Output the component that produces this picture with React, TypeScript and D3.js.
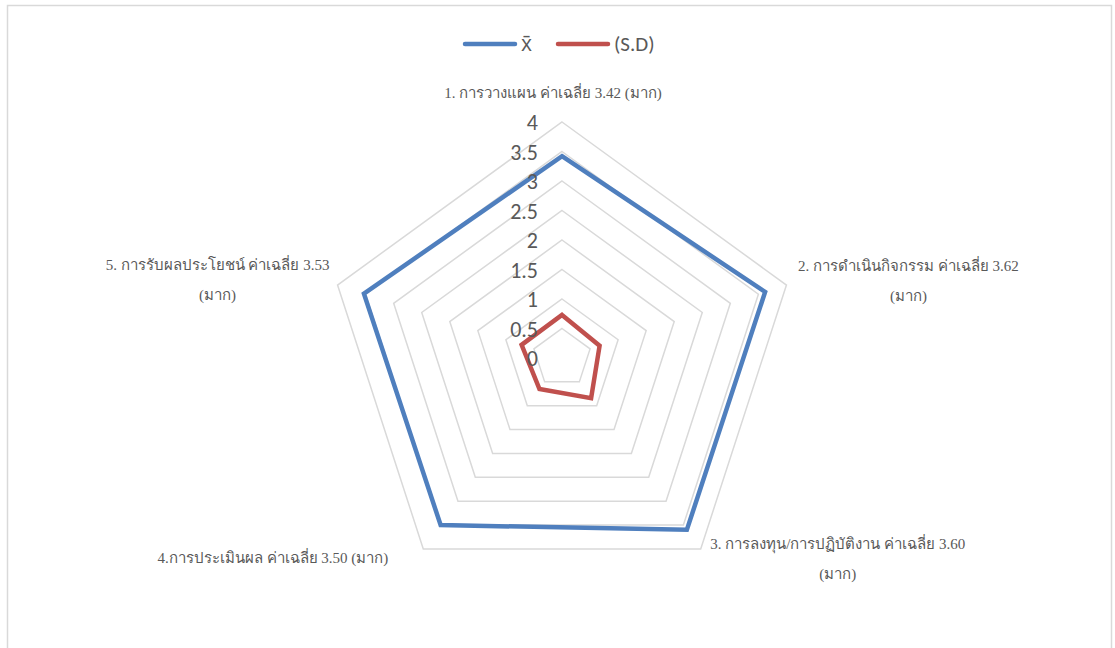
import * as d3 from 'd3';

const categories = [
  ['1. การวางแผน ค่าเฉลี่ย 3.42 (มาก)'],
  ['2. การดำเนินกิจกรรม  ค่าเฉลี่ย 3.62', '(มาก)'],
  ['3. การลงทุน/การปฏิบัติงาน ค่าเฉลี่ย 3.60', '(มาก)'],
  ['4.การประเมินผล ค่าเฉลี่ย 3.50 (มาก)'],
  ['5. การรับผลประโยชน์ ค่าเฉลี่ย 3.53', '(มาก)'],
];
const meanValues = [3.42, 3.62, 3.6, 3.5, 3.53];
const sdValues = [0.73, 0.67, 0.84, 0.65, 0.72];
const ticks = [0, 0.5, 1, 1.5, 2, 2.5, 3, 3.5, 4];
const seriesNames = ['x̄', '(S.D)'];

const W = 1115;
const H = 648;
const cx = 562;
const cy = 358;
const R = 236;
const BLUE = '#4f7fbe';
const RED = '#c0504d';
const GRID = '#d9d9d9';
const TEXT = '#595959';
const THAI_FONT = '"Liberation Serif", "Times New Roman", serif';
const NUM_FONT = 'Carlito, "Open Sans", "Liberation Sans", sans-serif';

// label anchor tweaks relative to outer vertex: dx, dy, text-anchor
const labelPlacement: [number, number, string][] = [
  [-9, -24, 'middle'],
  [122, -14, 'middle'],
  [137, 0, 'middle'],
  [-35, 14, 'end'],
  [-120, -15, 'middle'],
];

const App = () => {
  const r = d3.scaleLinear().domain([0, 4]).range([0, R]);
  const angle = (i: number) => (i * 2 * Math.PI) / categories.length;

  const radar = d3
    .lineRadial<number>()
    .angle((_, i) => angle(i))
    .radius((d) => r(d))
    .curve(d3.curveLinearClosed);

  const vertex = (i: number, v: number) => {
    const a = angle(i);
    return [cx + r(v) * Math.sin(a), cy - r(v) * Math.cos(a)];
  };

  const rings = ticks.filter((t) => t > 0);

  return (
    <svg
      width={W}
      height={H}
      style={{ position: 'absolute', left: 0, top: 0, background: '#fff' }}
    >
      <rect x={7.5} y={5.5} width={W - 11} height={H + 10} fill="none" stroke={GRID} strokeWidth={1.5} />

      {/* legend */}
      <g fontFamily={NUM_FONT} fontSize={21} fill={TEXT}>
        <line x1={465} x2={515} y1={44} y2={44} stroke={BLUE} strokeWidth={4.5} strokeLinecap="round" />
        <text x={521} y={51}>{seriesNames[0]}</text>
        <line x1={558} x2={608} y1={44} y2={44} stroke={RED} strokeWidth={4.5} strokeLinecap="round" />
        <text x={614} y={51}>{seriesNames[1]}</text>
      </g>

      <g transform={`translate(${cx},${cy})`}>
        {rings.map((t) => (
          <path
            key={t}
            d={radar(categories.map(() => t)) || ''}
            fill="none"
            stroke={GRID}
            strokeWidth={1.5}
          />
        ))}
        <path d={radar(meanValues) || ''} fill="none" stroke={BLUE} strokeWidth={4.5} strokeLinejoin="miter" />
        <path d={radar(sdValues) || ''} fill="none" stroke={RED} strokeWidth={4.5} strokeLinejoin="miter" />
      </g>

      {/* radial tick labels */}
      <g fontFamily={NUM_FONT} fontSize={22} fill={TEXT} textAnchor="end">
        {ticks.map((t) => (
          <text key={t} x={cx - 24} y={cy - r(t) + 8}>
            {t}
          </text>
        ))}
      </g>

      {/* category labels */}
      <g fontFamily={THAI_FONT} fontSize={15} fill={TEXT}>
        {categories.map((lines, i) => {
          const [vx, vy] = vertex(i, 4);
          const [dx, dy, anchor] = labelPlacement[i];
          return (
            <text key={i} x={vx + dx} y={vy + dy} textAnchor={anchor}>
              {lines.map((l, j) => (
                <tspan key={j} x={vx + dx} dy={j === 0 ? 0 : 30}>
                  {l}
                </tspan>
              ))}
            </text>
          );
        })}
      </g>
    </svg>
  );
};

export default App;
